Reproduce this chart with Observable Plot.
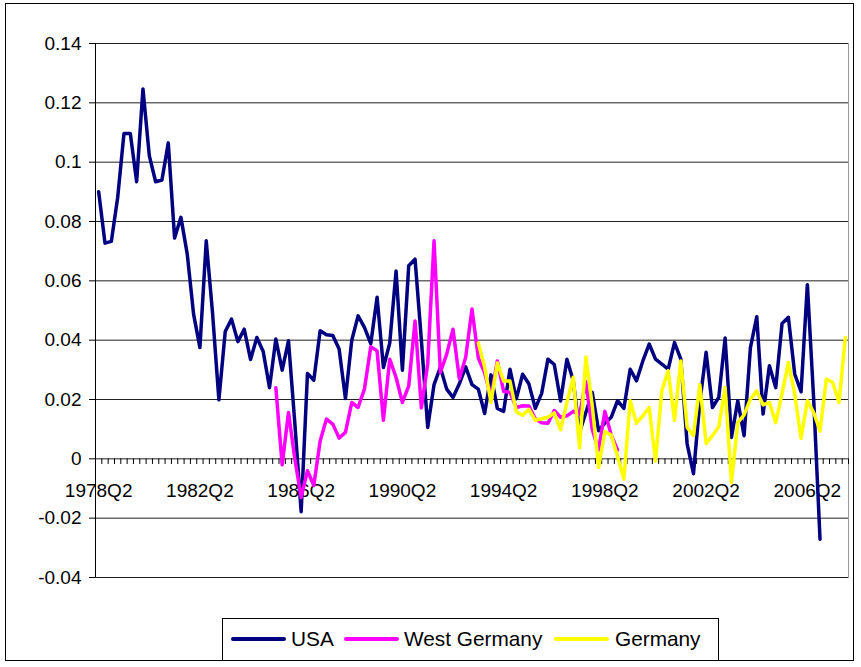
<!DOCTYPE html>
<html>
<head>
<meta charset="utf-8">
<script src="https://cdn.jsdelivr.net/npm/d3@7"></script>
<script src="https://cdn.jsdelivr.net/npm/@observablehq/plot@0.6"></script>
<style>
  html, body { margin: 0; padding: 0; background: #fff; }
  #wrap { position: relative; width: 861px; height: 667px; font-family: "Liberation Sans", Arial, sans-serif; }
  #border { position: absolute; left: 5px; top: 3px; width: 849px; height: 658px; border: 1px solid #000; box-sizing: border-box; }
  #chart { position: absolute; left: 0; top: 0; }
  #legend { position: absolute; left: 222px; top: 618px; width: 497px; height: 43px; border: 1px solid #000; box-sizing: border-box;
            font-size: 20.8px; color: #000; background: #fff; }
  .sw { position: absolute; top: 18px; width: 55px; height: 4px; border-radius: 2px; }
  .tx { position: absolute; top: 7px; line-height: 26px; white-space: nowrap; }
</style>
</head>
<body>
<div id="wrap">
  <div id="border"></div>
  <div id="chart"></div>
  <div id="legend"></div>
</div>
<script>
// ---- categories ----
const startYear = 1978, startQuarter = 2, nQuarters = 119;
const quarters = [];
for (let k = 0; k < nQuarters; k++) {
  const q = startQuarter - 1 + k;
  quarters.push(`${startYear + Math.floor(q / 4)}Q${(q % 4) + 1}`);
}
const xTickLabels = ["1978Q2", "1982Q2", "1986Q2", "1990Q2", "1994Q2", "1998Q2", "2002Q2", "2006Q2"];
const yTicks = [-0.04, -0.02, 0, 0.02, 0.04, 0.06, 0.08, 0.1, 0.12, 0.14];

// ---- series ----
const seriesNames = ["USA", "West Germany", "Germany"];
const seriesColors = ["#000080", "#FF00FF", "#FFFF00"];

const usaStart = "1978Q2";
const usa = [
  0.090, 0.0727, 0.0733, 0.088, 0.1097, 0.1097, 0.0934, 0.1247, 0.1022, 0.0934,
  0.094, 0.1065, 0.0744, 0.0814, 0.069, 0.0488, 0.0375, 0.0735, 0.049, 0.0199,
  0.0429, 0.0471, 0.0395, 0.0437, 0.0335, 0.0409, 0.0362, 0.024, 0.0404, 0.0299,
  0.0398, 0.012, -0.0178, 0.0288, 0.0265, 0.0432, 0.0418, 0.0416, 0.037, 0.0203,
  0.040, 0.0482, 0.0443, 0.0388, 0.0545, 0.0308, 0.039, 0.0633, 0.0299, 0.0651,
  0.0673, 0.040, 0.0106, 0.025, 0.0308, 0.0235, 0.0207, 0.0253, 0.031, 0.025,
  0.0235, 0.0153, 0.0283, 0.017, 0.016, 0.0302, 0.0202, 0.0285, 0.0252, 0.017,
  0.022, 0.0336, 0.0318, 0.0195, 0.0336, 0.0263, 0.009, 0.0156, 0.0224, 0.0095,
  0.012, 0.014, 0.0196, 0.017, 0.0302, 0.0263, 0.033, 0.0387, 0.0336, 0.0319,
  0.0302, 0.0392, 0.0336, 0.005, -0.005, 0.019, 0.0359, 0.0173, 0.0207, 0.0407,
  0.0072, 0.0196, 0.0078, 0.0375, 0.0479, 0.0151, 0.0314, 0.024, 0.0456, 0.0477,
  0.0286, 0.0226, 0.0587, 0.020, -0.0271
];

const westGermanyStart = "1985Q2";
const westGermany = [
  0.024, -0.002, 0.0156, 0.0, -0.013, -0.004, -0.009, 0.006, 0.0134, 0.0117,
  0.007, 0.0089, 0.019, 0.0173, 0.0235, 0.0378, 0.0364, 0.013, 0.0336, 0.0274,
  0.019, 0.0246, 0.0465, 0.0171, 0.032, 0.0735, 0.0291, 0.0353, 0.0437, 0.027,
  0.0342, 0.0505, 0.034, 0.029, 0.0207, 0.033, 0.0227, 0.0224, 0.0173, 0.0179,
  0.0178, 0.0135, 0.0122, 0.012, 0.0163, 0.014, 0.0145, 0.016, 0.015, 0.026,
  0.010, 0.003, 0.016, 0.008, 0.003
];

const germanyStart = "1993Q2";
const germany = [
  0.039, 0.031, 0.019, 0.0323, 0.0262, 0.0262, 0.0159, 0.0147, 0.0167, 0.013,
  0.0135, 0.014, 0.0155, 0.0098, 0.019, 0.0275, 0.0037, 0.0343, 0.018, -0.0029,
  0.0092, 0.008, 0.0008, -0.0068, 0.0196, 0.012, 0.0145, 0.0173, -0.0007, 0.0229,
  0.0297, 0.013, 0.033, 0.0106, 0.0078, 0.025, 0.0052, 0.0078, 0.0108, 0.024,
  -0.008, 0.0122, 0.0148, 0.0201, 0.0229, 0.0182, 0.019, 0.0122, 0.022, 0.0325,
  0.0218, 0.0069, 0.0196, 0.0156, 0.0094, 0.0269, 0.0257, 0.019, 0.0409
];

// ---- build tables ----
function toRows(values, start, name) {
  const s = quarters.indexOf(start);
  return values.map((v, j) => ({ i: s + j, q: quarters[s + j], v, name }));
}
const rowsUSA = toRows(usa, usaStart, "USA");
const rowsWG = toRows(westGermany, westGermanyStart, "West Germany");
const rowsDE = toRows(germany, germanyStart, "Germany");

const labelRows = xTickLabels.map(l => ({ i: quarters.indexOf(l), label: l }));
const boundaries = d3.range(0, nQuarters + 1).map(k => k - 0.5);
const yFmt = d => String(+d.toFixed(2));
const tickLen = 0.0019; // data units for the small category tick marks

const chart = Plot.plot({
  width: 861,
  height: 600,
  marginLeft: 95,
  marginRight: 13,
  marginTop: 43,
  marginBottom: 23,
  style: { fontFamily: "'Liberation Sans', Arial, sans-serif", background: "transparent", color: "#000" },
  x: { domain: [-0.5, nQuarters - 0.5], axis: null },
  y: { domain: [-0.04, 0.14], axis: null },
  marks: [
    Plot.frame({ stroke: "#9a9a9a" }),
    Plot.ruleY(yTicks, { stroke: "#202020", strokeWidth: 1 }),
    Plot.ruleX([-0.5], { stroke: "#000" }),
    Plot.axisY({ ticks: yTicks, tickFormat: yFmt, tickSize: 6, tickPadding: 8, fontSize: 19, stroke: "#000", label: null }),
    Plot.ruleX(boundaries, { x: d => d, y1: 0, y2: -tickLen, stroke: "#000" }),
    Plot.text(labelRows, { x: "i", y: 0, text: "label", dy: 32, fontSize: 19, fill: "#000" }),
    Plot.line(rowsUSA, { x: "i", y: "v", stroke: seriesColors[0], strokeWidth: 3.5, strokeLinejoin: "round" }),
    Plot.line(rowsWG, { x: "i", y: "v", stroke: seriesColors[1], strokeWidth: 3.5, strokeLinejoin: "round" }),
    Plot.line(rowsDE, { x: "i", y: "v", stroke: seriesColors[2], strokeWidth: 3.5, strokeLinejoin: "round" })
  ]
});
document.getElementById("chart").appendChild(chart);

// ---- legend ----
const legend = document.getElementById("legend");
const swatchLeft = [8, 121, 331];
const textLeft = [68, 181, 392];
seriesNames.forEach((n, k) => {
  const sw = document.createElement("span");
  sw.className = "sw";
  sw.style.left = swatchLeft[k] + "px";
  sw.style.background = seriesColors[k];
  const tx = document.createElement("span");
  tx.className = "tx";
  tx.style.left = textLeft[k] + "px";
  tx.textContent = n;
  legend.appendChild(sw);
  legend.appendChild(tx);
});
</script>
</body>
</html>
